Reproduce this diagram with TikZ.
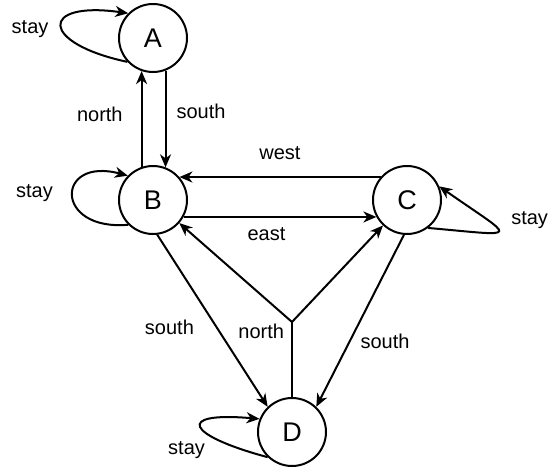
\documentclass[tikz,border=0pt]{standalone}
\usepackage{fontspec}
\setmainfont{Liberation Sans}
\usetikzlibrary{arrows.meta}

\begin{document}
\begin{tikzpicture}[x=1pt,y=1pt]
    \useasboundingbox (0,0) rectangle (550,-469);

    \begin{scope} [every node/.style={circle,draw,line width=2pt,minimum size=68pt,inner sep=0pt,font=\fontsize{27}{30}\selectfont}]
        \foreach \s/\x/\y in {A/153/38,B/153/200,C/407/200,D/292/432}{
            \node (\s) at (\x,-\y) {\s};
        }
    \end{scope}
    \coordinate (J) at (292,-322);

    \begin{scope}[>={Stealth[length=13pt,width=11pt,inset=4pt]}, line width=2pt,
            every node/.style={inner sep=0pt,font=\fontsize{20}{24}\selectfont},
            every edge/.style={draw,line width=2pt}]
        \path [->] (A.-69) edge node[pos=0.42,right=10pt] {south} (B.69);
        \path [->] (B.109) edge node[pos=0.55,left=18pt] {north} (A.-109);
        \path [->] (C.139) edge node[midway,above=16pt] {west} (B.41);
        \path [->] (B.-29) edge node[pos=0.43,below=10pt] {east} (C.-151);
        \path [->] (B.-83) edge node[pos=0.54,left=22pt] {south} (D.134);
        \path [->] (C.-95) edge node[pos=0.62,right=10pt] {south} (D.46);
        \path (D) edge node[pos=0.88,left=7pt] {north} (J);
        \path [->] (J) edge (B) (J) edge (C);

        \path [->] (A.223) edge[out=168,in=172,distance=90pt] node[midway,left=12pt,yshift=-3pt] {stay} (A.135);
        \path [->] (B.225) edge[out=185,in=165,distance=75pt] node[midway,left=19pt,yshift=2pt] {stay} (B.136);
        \path [->] (C.307) edge[out=-5,in=-35,distance=95pt] node[midway,right=12pt,yshift=11pt] {stay} (C.23);
        \path [->] (D.226) edge[out=165,in=175,distance=85pt] node[pos=0.25,anchor=north east,xshift=-14pt] {stay} (D.158);
    \end{scope}
\end{tikzpicture}
\end{document}
